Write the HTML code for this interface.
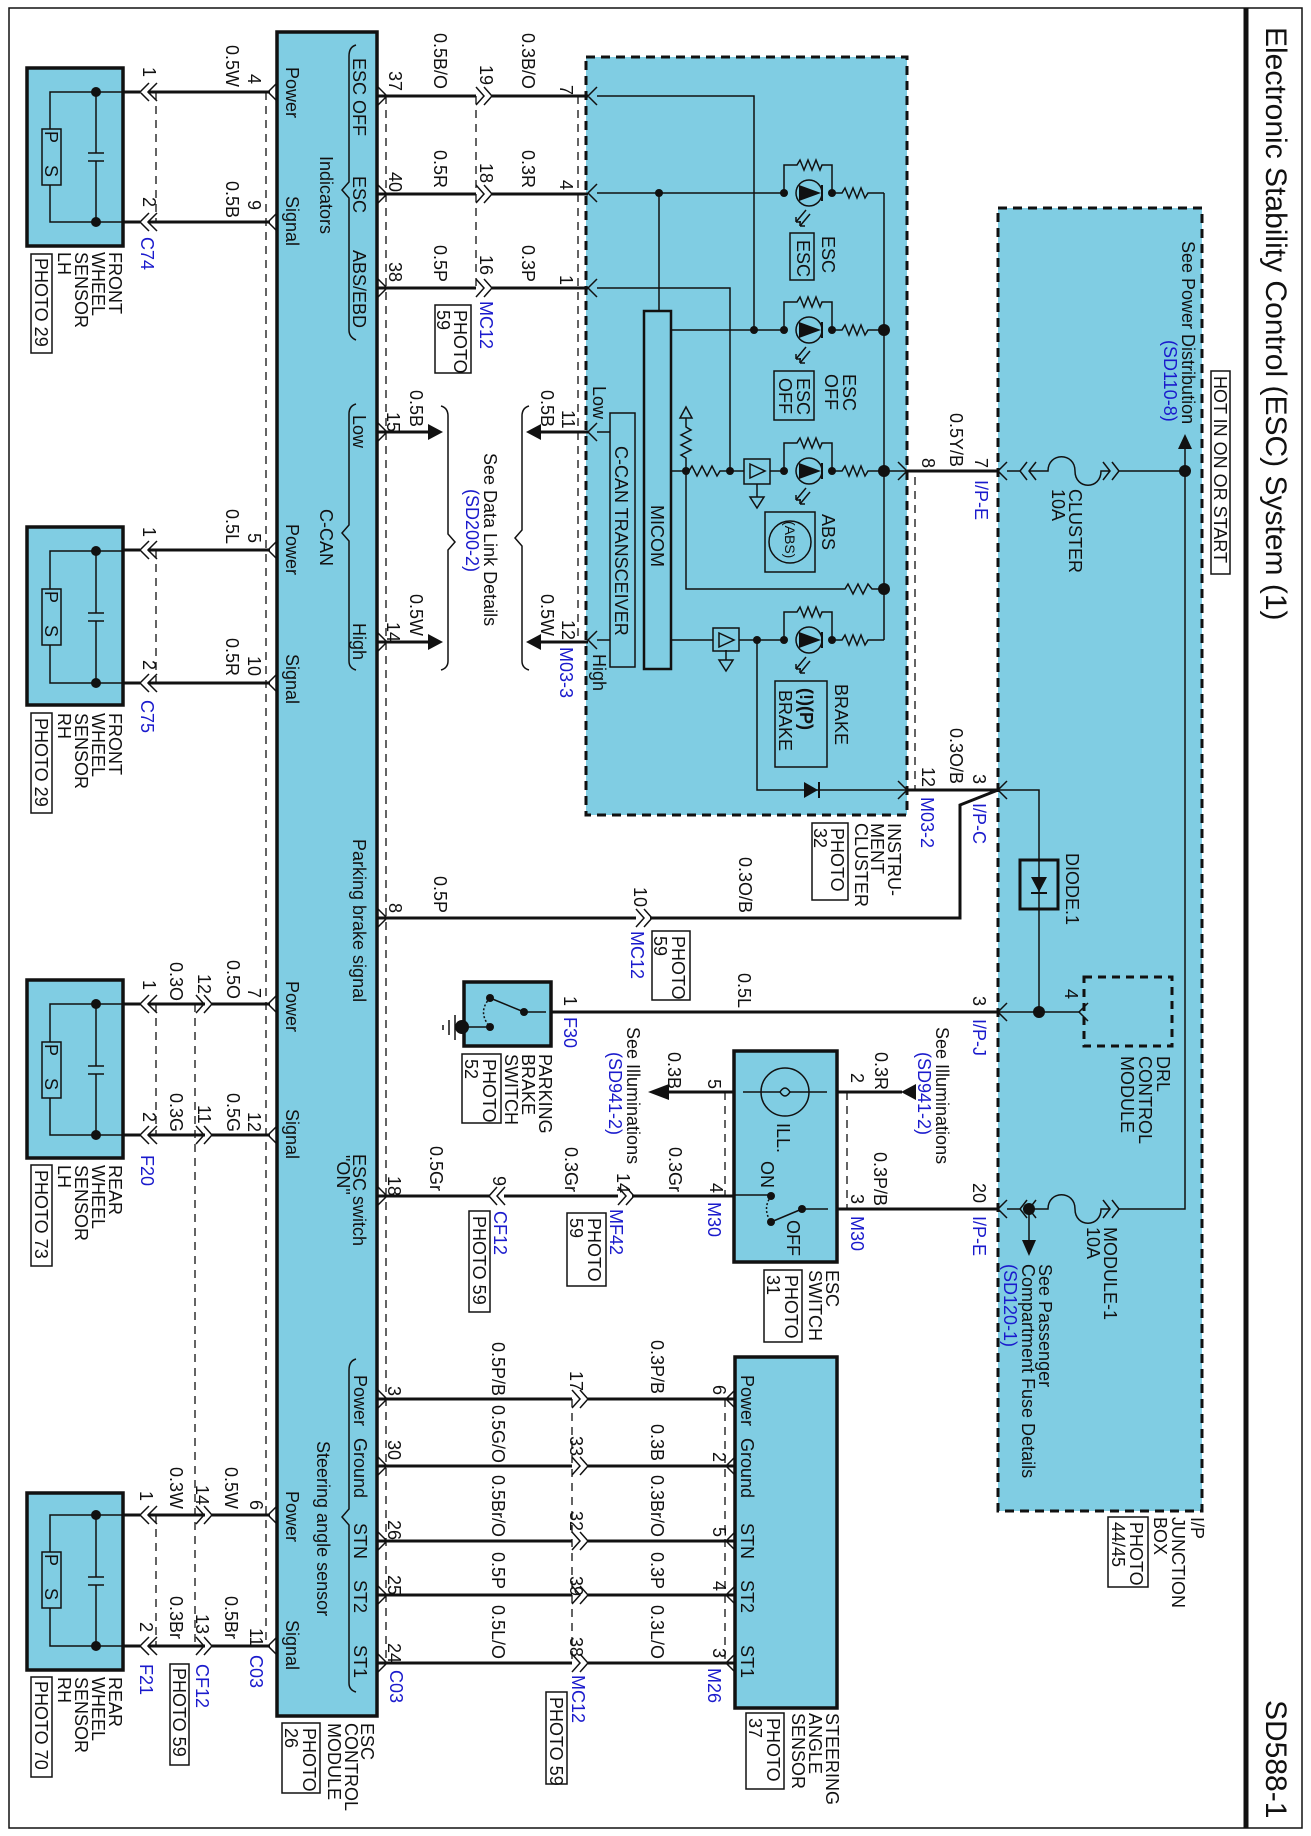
<!DOCTYPE html>
<html><head><meta charset="utf-8"><style>
html,body{margin:0;padding:0;background:#fff}
svg{display:block}
text{font-family:"Liberation Sans",sans-serif;font-size:18px;fill:#111}
.b{fill:#1a1acc}
.w{stroke:#111;stroke-width:3;fill:none}
.n{stroke:#111;stroke-width:1.5;fill:none}
.d{stroke:#111;stroke-width:1.3;fill:none;stroke-dasharray:8 6}
.c{fill:#80cde3;stroke:#111;stroke-width:3.5}
.cd{fill:#80cde3;stroke:#111;stroke-width:3;stroke-dasharray:9 6}
.k{fill:#111}
.bx{fill:none;stroke:#111;stroke-width:1.5}
</style></head><body>
<svg width="1311" height="1836" viewBox="0 0 1311 1836" xmlns="http://www.w3.org/2000/svg">
<rect x="9" y="8" width="1293" height="1820" fill="none" stroke="#111" stroke-width="1.5"/>
<line x1="1246" y1="8" x2="1246" y2="1828" stroke="#111" stroke-width="5"/>
<text style="font-size:30px" transform="translate(1266,27) rotate(90)">Electronic Stability Control (ESC) System (1)</text>
<text style="font-size:30px" transform="translate(1266,1700) rotate(90)">SD588-1</text>

<rect class="cd" x="998" y="208" width="204" height="1303"/>
<rect class="cd" x="586" y="57" width="321" height="758"/>
<rect class="c" x="277" y="32" width="100" height="1684"/>

<g transform="translate(0,68)">
<rect class="c" x="27" y="0" width="96" height="178"/>
<path class="n" d="M123,24H50V154H123M96,24V85M96,93V154M88,85H104M88,93H104"/>
<rect x="42" y="61" width="19" height="56" fill="#80cde3" stroke="#111" stroke-width="1.5"/>
<circle class="k" cx="96" cy="24" r="5"/><circle class="k" cx="96" cy="154" r="5"/>
</g>
<g transform="translate(0,527)">
<rect class="c" x="27" y="0" width="96" height="178"/>
<path class="n" d="M123,24H50V156H123M96,24V86M96,94V156M88,86H104M88,94H104"/>
<rect x="42" y="62" width="19" height="56" fill="#80cde3" stroke="#111" stroke-width="1.5"/>
<circle class="k" cx="96" cy="24" r="5"/><circle class="k" cx="96" cy="156" r="5"/>
</g>
<g transform="translate(0,980)">
<rect class="c" x="27" y="0" width="96" height="178"/>
<path class="n" d="M123,24H50V155H123M96,24V86M96,94V155M88,86H104M88,94H104"/>
<rect x="42" y="62" width="19" height="56" fill="#80cde3" stroke="#111" stroke-width="1.5"/>
<circle class="k" cx="96" cy="24" r="5"/><circle class="k" cx="96" cy="155" r="5"/>
</g>
<g transform="translate(0,1493)">
<rect class="c" x="27" y="0" width="96" height="177"/>
<path class="n" d="M123,22H50V153H123M96,22V84M96,92V153M88,84H104M88,92H104"/>
<rect x="42" y="59" width="19" height="56" fill="#80cde3" stroke="#111" stroke-width="1.5"/>
<circle class="k" cx="96" cy="22" r="5"/><circle class="k" cx="96" cy="153" r="5"/>
</g>
<text transform="translate(45,131) rotate(90)">P</text><text transform="translate(45,165) rotate(90)">S</text>
<text transform="translate(45,591) rotate(90)">P</text><text transform="translate(45,625) rotate(90)">S</text>
<text transform="translate(45,1044) rotate(90)">P</text><text transform="translate(45,1078) rotate(90)">S</text>
<text transform="translate(45,1554) rotate(90)">P</text><text transform="translate(45,1588) rotate(90)">S</text>

<path class="w" d="M123,92H140M148,92H270M123,222H140M148,222H270M123,550H140M148,550H270M123,683H140M148,683H270"/>
<path class="w" d="M123,1004H140M148,1004H205M212,1004H270M123,1135H140M148,1135H205M212,1135H270"/>
<path class="w" d="M123,1515H140M148,1515H205M212,1515H270M123,1646H140M148,1646H205M212,1646H270"/>
<path class="n" d="M149,83L140,92L149,101M157,83L148,92L157,101M149,213L140,222L149,231M157,213L148,222L157,231
M149,541L140,550L149,559M157,541L148,550L157,559M149,674L140,683L149,692M157,674L148,683L157,692
M149,995L140,1004L149,1013M157,995L148,1004L157,1013M149,1126L140,1135L149,1144M157,1126L148,1135L157,1144
M149,1506L140,1515L149,1524M157,1506L148,1515L157,1524M149,1637L140,1646L149,1655M157,1637L148,1646L157,1655
M196,995L204,1004L196,1013M204,995L212,1004L204,1013M196,1126L204,1135L196,1144M204,1126L212,1135L204,1144
M196,1506L204,1515L196,1524M204,1506L212,1515L204,1524M196,1637L204,1646L196,1655M204,1637L212,1646L204,1655
M277,83L268,92L277,101M277,213L268,222L277,231M277,541L268,550L277,559M277,674L268,683L277,692
M277,995L268,1004L277,1013M277,1126L268,1135L277,1144M277,1506L268,1515L277,1524M277,1637L268,1646L277,1655"/>
<path class="d" d="M156,92V222M156,550V683M156,1004V1135M156,1515V1646M195,1004V1646M266,92V1646M386,96V1663M476,96V288M578,96V642M572,1399V1663M725,1399V1663M725,1092V1195M847,1092V1209M915,477V790"/>

<path class="w" d="M378,96H476M492,96H588M378,194H476M492,194H588M378,288H476M492,288H588
M378,432H430M378,642H430M540,432H588M540,642H588
M378,918H636M650,918H960V805L998,790M907,790H998
M378,1196H490M504,1196H618M632,1196H734
M378,1399H572M588,1399H735M378,1466H572M588,1466H735M378,1541H572M588,1541H735M378,1595H572M588,1595H735M378,1663H572M588,1663H735
M551,1012H998M907,471H998M837,1209H998M668,1092H734M837,1092H902"/>
<path class="k" d="M428,424L443,432L428,440ZM428,634L443,642L428,650ZM541,424L526,432L541,440ZM541,634L526,642L541,650ZM669,1084L648,1092L669,1100ZM901,1092L916,1084L916,1100Z"/>
<path class="n" d="M378,87L387,96L378,105M378,185L387,194L378,203M378,279L387,288L378,297M378,423L387,432L378,441M378,633L387,642L378,651M378,909L387,918L378,927M378,1187L387,1196L378,1205M378,1390L387,1399L378,1408M378,1457L387,1466L378,1475M378,1532L387,1541L378,1550M378,1586L387,1595L378,1604M378,1654L387,1663L378,1672
M476,87L484,96L476,105M484,87L492,96L484,105M476,185L484,194L476,203M484,185L492,194L484,203M476,279L484,288L476,297M484,279L492,288L484,297
M636,909L644,918L636,927M644,909L652,918L644,927M505,1187L497,1196L505,1205M497,1187L489,1196L497,1205M618,1187L626,1196L618,1205M626,1187L634,1196L626,1205
M572,1390L580,1399L572,1408M580,1390L588,1399L580,1408M572,1457L580,1466L572,1475M580,1457L588,1466L580,1475M572,1532L580,1541L572,1550M580,1532L588,1541L580,1550M572,1586L580,1595L572,1604M580,1586L588,1595L580,1604M572,1654L580,1663L572,1672M580,1654L588,1663L580,1672
M597,87L588,96L597,105M597,184L588,193L597,202M597,279L588,288L597,297M597,423L588,432L597,441M597,631L588,640L597,649
M898,462L907,471L898,480M898,781L907,790L898,799M1007,462L998,471L1007,480M1007,781L998,790L1007,799M1007,1003L998,1012L1007,1021M1007,1200L998,1209L1007,1218
M735,1390L726,1399L735,1408M735,1457L726,1466L735,1475M735,1532L726,1541L735,1550M735,1586L726,1595L735,1604M735,1654L726,1663L735,1672
M743,1083L734,1092L743,1101M828,1083L837,1092L828,1101M743,1186L734,1195L743,1204M828,1200L837,1209L828,1218M542,1003L551,1012L542,1021
M1088,1003L1079,1012L1088,1021"/>

<path class="n" d="M356,45Q349,47 349,56V182L342,190L349,198V330Q349,337 356,340M356,404Q349,406 349,414V525L342,533L349,541V661Q349,668 356,670M356,1359Q349,1361 349,1370V1509L342,1517L349,1525V1683Q349,1690 356,1692
M441,406Q448,408 448,416V534L455,542L448,550V661Q448,668 441,670M529,406Q522,408 522,416V530L515,538L522,546V661Q522,668 529,670"/>

<rect x="644" y="311" width="27" height="358" fill="#80cde3" stroke="#111" stroke-width="2.5"/>
<rect x="610" y="413" width="25" height="254" fill="#80cde3" stroke="#111" stroke-width="1.5"/>
<path class="n" d="M597,96H754V330M597,193H784M659,193V311M597,288H730V471M671,330H784M597,432H610M597,640H610
M671,471H689L692,466L697,476L702,466L707,476L712,466L717,476L720,471H744M770,471H784M757,484V497M750,497H764L757,508Z
M686,471V458L681,455L691,450L681,445L691,440L681,435L691,430L686,427V418M680,418H692L686,407Z
M686,471V589H845L848,584L853,594L858,584L863,594L868,584L872,589H884
M671,640H713M739,640H784M726,650V660M719,660H733L726,671Z
M757,640V790H907M884,193V640M887,471H907"/>
<rect x="744" y="459" width="26" height="25" fill="none" stroke="#111" stroke-width="1.5"/>
<path class="n" d="M750,464L765,471L750,478Z"/>
<rect x="713" y="628" width="26" height="23" fill="none" stroke="#111" stroke-width="1.5"/>
<path class="n" d="M719,633L734,640L719,647Z"/>
<path class="k" d="M804,782L818,790L804,798Z"/><line x1="819" y1="782" x2="819" y2="798" stroke="#111" stroke-width="2"/>
<g id="led">
<path class="n" d="M784,193V165H797L800,160L804,170L808,160L812,170L816,160L820,170L822,165H832V193M832,193H842L845,188L849,198L853,188L857,198L861,188L865,198L868,193H884"/>
<circle cx="809" cy="193" r="13" fill="none" stroke="#111" stroke-width="1.5"/>
<path class="k" d="M799,185L821,193L799,201Z"/><line x1="822" y1="185" x2="822" y2="201" stroke="#111" stroke-width="2"/>
<circle class="k" cx="784" cy="193" r="4"/><circle class="k" cx="832" cy="193" r="4"/>
<path class="n" d="M806,210L796,222M810,214L800,226M796,222l0,-5M796,222l5,0M800,226l0,-5M800,226l5,0"/>
</g>
<use href="#led" transform="translate(0,137)"/>
<use href="#led" transform="translate(0,278)"/>
<use href="#led" transform="translate(0,447)"/>
<circle class="k" cx="659" cy="193" r="4"/><circle class="k" cx="754" cy="330" r="4"/><circle class="k" cx="730" cy="471" r="4"/><circle class="k" cx="686" cy="471" r="4"/><circle class="k" cx="757" cy="640" r="4"/>
<circle class="k" cx="884" cy="330" r="6"/><circle class="k" cx="884" cy="471" r="6"/><circle class="k" cx="884" cy="589" r="6"/>
<rect class="bx" x="790" y="233" width="24" height="47"/>
<rect class="bx" x="774" y="371" width="40" height="49"/>
<rect class="bx" x="765" y="512" width="50" height="60"/><circle cx="790" cy="542" r="21" fill="none" stroke="#111" stroke-width="1.5"/>
<rect class="bx" x="775" y="681" width="52" height="86"/>

<path class="n" d="M1007,471H1020M1118,471H1185V1209H1118M1020,1209H1007M1185,471V448M1029,1209V1240M998,790H1039V1012M998,1012H1079
M1027,462L1020,471L1027,480M1036,462L1029,471L1036,480M1112,462L1119,471L1112,480M1103,462L1110,471L1103,480
M1027,1200L1020,1209L1027,1218M1036,1200L1029,1209L1036,1218M1112,1200L1119,1209L1112,1218M1103,1200L1110,1209L1103,1218
M1029,471H1048C1048,452 1075,452 1075,471C1075,490 1101,490 1101,471H1110M1029,1209H1048C1048,1190 1075,1190 1075,1209C1075,1228 1101,1228 1101,1209H1110"/>
<path class="k" d="M1178,449L1185,434L1192,449ZM1022,1240L1029,1256L1036,1240Z"/>
<circle class="k" cx="1185" cy="471" r="6"/><circle class="k" cx="1029" cy="1209" r="6"/><circle class="k" cx="1039" cy="1012" r="6"/>
<rect x="1020" y="860" width="38" height="49" fill="none" stroke="#111" stroke-width="3"/>
<path class="k" d="M1031,877H1047L1039,892Z"/><line x1="1031" y1="893" x2="1047" y2="893" stroke="#111" stroke-width="2"/>
<rect x="1084" y="977" width="88" height="69" fill="none" stroke="#111" stroke-width="3" stroke-dasharray="8 6"/>
<rect class="bx" x="1211" y="371" width="19" height="203"/>

<rect class="c" x="464" y="982" width="87" height="64"/>
<path class="n" d="M490,998L524,1012H546M490,1027H463"/>
<path class="n" d="M490,998Q477,1012 490,1027" stroke-dasharray="2 2"/>
<circle class="k" cx="490" cy="998" r="4"/><circle class="k" cx="524" cy="1012" r="4"/><circle class="k" cx="490" cy="1027" r="4"/><circle class="k" cx="462" cy="1027" r="7"/>
<path class="n" d="M455,1015V1040M449,1020V1035M443,1025V1030" stroke-width="2"/>

<rect class="c" x="734" y="1051" width="103" height="211"/>
<circle cx="785" cy="1092" r="24" fill="#80cde3" stroke="#111" stroke-width="1.5"/>
<path class="n" d="M743,1092H761M809,1092H827M734,1195H771M802,1209H828M771,1222L802,1209M761,1092H780Q785,1084 790,1092Q785,1100 780,1092"/>
<path class="n" d="M790,1092H809"/>
<path class="n" d="M771,1196Q762,1209 771,1222" stroke-dasharray="2 2"/>
<circle class="k" cx="771" cy="1196" r="4"/><circle class="k" cx="771" cy="1222" r="4"/><circle class="k" cx="802" cy="1209" r="4"/>

<rect class="c" x="735" y="1357" width="102" height="351"/>

<g class="bx">
<rect x="31" y="254" width="21" height="99"/><rect x="31" y="713" width="21" height="100"/><rect x="31" y="1165" width="21" height="101"/><rect x="31" y="1677" width="21" height="100"/>
<rect x="435" y="305" width="36" height="68"/><rect x="652" y="931" width="38" height="69"/><rect x="812" y="823" width="36" height="77"/>
<rect x="462" y="1054" width="39" height="69"/><rect x="469" y="1211" width="21" height="101"/><rect x="567" y="1213" width="39" height="73"/>
<rect x="764" y="1270" width="38" height="72"/><rect x="1108" y="1517" width="40" height="70"/><rect x="746" y="1713" width="38" height="76"/>
<rect x="546" y="1692" width="21" height="92"/><rect x="170" y="1664" width="19" height="101"/><rect x="282" y="1723" width="38" height="70"/>
</g>

<g>
<text transform="translate(143,67) rotate(90)">1</text><text transform="translate(248,74) rotate(90)">4</text><text transform="translate(226,45) rotate(90)">0.5W</text>
<text transform="translate(143,197) rotate(90)">2</text><text transform="translate(248,200) rotate(90)">9</text><text transform="translate(226,181) rotate(90)">0.5B</text>
<text class="b" transform="translate(141,237) rotate(90)">C74</text>
<text transform="translate(109,252) rotate(90)">FRONT</text><text transform="translate(92,252) rotate(90)">WHEEL</text><text transform="translate(75,252) rotate(90)">SENSOR</text><text transform="translate(58,252) rotate(90)">LH</text><text transform="translate(35,258) rotate(90)">PHOTO 29</text>

<text transform="translate(143,527) rotate(90)">1</text><text transform="translate(248,533) rotate(90)">5</text><text transform="translate(226,509) rotate(90)">0.5L</text>
<text transform="translate(143,660) rotate(90)">2</text><text transform="translate(248,656) rotate(90)">10</text><text transform="translate(226,638) rotate(90)">0.5R</text>
<text class="b" transform="translate(141,700) rotate(90)">C75</text>
<text transform="translate(109,713) rotate(90)">FRONT</text><text transform="translate(92,713) rotate(90)">WHEEL</text><text transform="translate(75,713) rotate(90)">SENSOR</text><text transform="translate(58,713) rotate(90)">RH</text><text transform="translate(35,718) rotate(90)">PHOTO 29</text>

<text transform="translate(143,980) rotate(90)">1</text><text transform="translate(170,962) rotate(90)">0.3O</text><text transform="translate(198,974) rotate(90)">12</text><text transform="translate(227,960) rotate(90)">0.5O</text><text transform="translate(248,988) rotate(90)">7</text>
<text transform="translate(143,1112) rotate(90)">2</text><text transform="translate(170,1093) rotate(90)">0.3G</text><text transform="translate(198,1105) rotate(90)">11</text><text transform="translate(227,1093) rotate(90)">0.5G</text><text transform="translate(248,1112) rotate(90)">12</text>
<text class="b" transform="translate(141,1155) rotate(90)">F20</text>
<text transform="translate(109,1165) rotate(90)">REAR</text><text transform="translate(92,1165) rotate(90)">WHEEL</text><text transform="translate(75,1165) rotate(90)">SENSOR</text><text transform="translate(58,1165) rotate(90)">LH</text><text transform="translate(35,1170) rotate(90)">PHOTO 73</text>

<text transform="translate(140,1491) rotate(90)">1</text><text transform="translate(170,1467) rotate(90)">0.3W</text><text transform="translate(196,1485) rotate(90)">14</text><text transform="translate(225,1467) rotate(90)">0.5W</text><text transform="translate(250,1500) rotate(90)">6</text>
<text transform="translate(140,1622) rotate(90)">2</text><text transform="translate(170,1596) rotate(90)">0.3Br</text><text transform="translate(196,1614) rotate(90)">13</text><text transform="translate(225,1596) rotate(90)">0.5Br</text><text transform="translate(250,1628) rotate(90)">11</text>
<text class="b" transform="translate(140,1664) rotate(90)">F21</text><text class="b" transform="translate(196,1664) rotate(90)">CF12</text><text transform="translate(173,1668) rotate(90)">PHOTO 59</text><text class="b" transform="translate(250,1655) rotate(90)">C03</text>
<text transform="translate(109,1677) rotate(90)">REAR</text><text transform="translate(92,1677) rotate(90)">WHEEL</text><text transform="translate(75,1677) rotate(90)">SENSOR</text><text transform="translate(58,1677) rotate(90)">RH</text><text transform="translate(35,1681) rotate(90)">PHOTO 70</text>

<text transform="translate(286,67) rotate(90)">Power</text><text transform="translate(286,196) rotate(90)">Signal</text><text transform="translate(320,156) rotate(90)">Indicators</text>
<text transform="translate(353,58) rotate(90)">ESC OFF</text><text transform="translate(353,176) rotate(90)">ESC</text><text transform="translate(353,250) rotate(90)">ABS/EBD</text>
<text transform="translate(353,415) rotate(90)">Low</text><text transform="translate(320,509) rotate(90)">C-CAN</text><text transform="translate(353,623) rotate(90)">High</text>
<text transform="translate(286,524) rotate(90)">Power</text><text transform="translate(286,654) rotate(90)">Signal</text>
<text transform="translate(353,839) rotate(90)">Parking brake signal</text>
<text transform="translate(286,981) rotate(90)">Power</text><text transform="translate(286,1109) rotate(90)">Signal</text>
<text transform="translate(353,1154) rotate(90)">ESC switch</text><text transform="translate(337,1155) rotate(90)">"ON"</text>
<text transform="translate(354,1375) rotate(90)">Power</text><text transform="translate(354,1438) rotate(90)">Ground</text><text transform="translate(354,1523) rotate(90)">STN</text><text transform="translate(354,1580) rotate(90)">ST2</text><text transform="translate(354,1645) rotate(90)">ST1</text>
<text transform="translate(317,1441) rotate(90)">Steering angle sensor</text>
<text transform="translate(286,1491) rotate(90)">Power</text><text transform="translate(286,1620) rotate(90)">Signal</text>
<text transform="translate(361,1723) rotate(90)">ESC</text><text transform="translate(345,1723) rotate(90)">CONTROL</text><text transform="translate(328,1723) rotate(90)">MODULE</text>
<text transform="translate(303,1728) rotate(90)">PHOTO</text><text transform="translate(285,1728) rotate(90)">26</text>

<text transform="translate(389,71) rotate(90)">37</text><text transform="translate(434,33) rotate(90)">0.5B/O</text><text transform="translate(480,65) rotate(90)">19</text><text transform="translate(522,33) rotate(90)">0.3B/O</text><text transform="translate(560,85) rotate(90)">7</text>
<text transform="translate(389,172) rotate(90)">40</text><text transform="translate(434,150) rotate(90)">0.5R</text><text transform="translate(480,163) rotate(90)">18</text><text transform="translate(522,150) rotate(90)">0.3R</text><text transform="translate(560,180) rotate(90)">4</text>
<text transform="translate(389,262) rotate(90)">38</text><text transform="translate(434,245) rotate(90)">0.5P</text><text transform="translate(480,255) rotate(90)">16</text><text transform="translate(522,245) rotate(90)">0.3P</text><text transform="translate(560,275) rotate(90)">1</text>
<text class="b" transform="translate(480,301) rotate(90)">MC12</text><text transform="translate(454,310) rotate(90)">PHOTO</text><text transform="translate(437,310) rotate(90)">59</text>
<text transform="translate(387,412) rotate(90)">15</text><text transform="translate(410,390) rotate(90)">0.5B</text><text transform="translate(387,622) rotate(90)">14</text><text transform="translate(410,594) rotate(90)">0.5W</text>
<text transform="translate(562,410) rotate(90)">11</text><text transform="translate(541,390) rotate(90)">0.5B</text><text transform="translate(562,620) rotate(90)">12</text><text transform="translate(541,594) rotate(90)">0.5W</text>
<text class="b" transform="translate(560,647) rotate(90)">M03-3</text>
<text transform="translate(484,453) rotate(90)">See Data Link Details</text><text class="b" transform="translate(466,489) rotate(90)">(SD200-2)</text>
<text transform="translate(593,386) rotate(90)">Low</text><text transform="translate(593,654) rotate(90)">High</text>

<text transform="translate(389,903) rotate(90)">8</text><text transform="translate(434,876) rotate(90)">0.5P</text><text transform="translate(634,887) rotate(90)">10</text>
<text class="b" transform="translate(631,931) rotate(90)">MC12</text><text transform="translate(672,936) rotate(90)">PHOTO</text><text transform="translate(654,936) rotate(90)">59</text>
<text transform="translate(739,857) rotate(90)">0.3O/B</text>

<text transform="translate(388,1176) rotate(90)">18</text><text transform="translate(430,1146) rotate(90)">0.5Gr</text><text transform="translate(493,1176) rotate(90)">9</text>
<text class="b" transform="translate(494,1211) rotate(90)">CF12</text><text transform="translate(473,1216) rotate(90)">PHOTO 59</text>
<text transform="translate(565,1147) rotate(90)">0.3Gr</text><text transform="translate(617,1173) rotate(90)">14</text><text class="b" transform="translate(610,1209) rotate(90)">MF42</text>
<text transform="translate(588,1218) rotate(90)">PHOTO</text><text transform="translate(570,1218) rotate(90)">59</text>
<text transform="translate(669,1147) rotate(90)">0.3Gr</text><text transform="translate(710,1183) rotate(90)">4</text><text class="b" transform="translate(708,1202) rotate(90)">M30</text>

<text transform="translate(564,996) rotate(90)">1</text><text class="b" transform="translate(564,1017) rotate(90)">F30</text>
<text transform="translate(539,1054) rotate(90)">PARKING</text><text transform="translate(522,1054) rotate(90)">BRAKE</text><text transform="translate(505,1054) rotate(90)">SWITCH</text>
<text transform="translate(483,1059) rotate(90)">PHOTO</text><text transform="translate(465,1059) rotate(90)">52</text>
<text transform="translate(738,973) rotate(90)">0.5L</text>
<text transform="translate(627,1027) rotate(90)">See Illuminations</text><text class="b" transform="translate(609,1052) rotate(90)">(SD941-2)</text>
<text transform="translate(708,1079) rotate(90)">5</text><text transform="translate(668,1052) rotate(90)">0.3B</text>
<text transform="translate(851,1073) rotate(90)">2</text><text transform="translate(875,1052) rotate(90)">0.3R</text>
<text transform="translate(936,1027) rotate(90)">See Illuminations</text><text class="b" transform="translate(918,1052) rotate(90)">(SD941-2)</text>
<text transform="translate(851,1194) rotate(90)">3</text><text transform="translate(874,1152) rotate(90)">0.3P/B</text><text class="b" transform="translate(851,1216) rotate(90)">M30</text>
<text transform="translate(973,1183) rotate(90)">20</text><text class="b" transform="translate(973,1216) rotate(90)">I/P-E</text>
<text transform="translate(777,1123) rotate(90)">ILL.</text><text transform="translate(761,1161) rotate(90)">ON</text><text transform="translate(787,1220) rotate(90)">OFF</text>
<text transform="translate(826,1270) rotate(90)">ESC</text><text transform="translate(809,1270) rotate(90)">SWITCH</text>
<text transform="translate(785,1275) rotate(90)">PHOTO</text><text transform="translate(767,1275) rotate(90)">31</text>

<text transform="translate(388,1386) rotate(90)">3</text><text transform="translate(388,1440) rotate(90)">30</text><text transform="translate(388,1520) rotate(90)">26</text><text transform="translate(388,1575) rotate(90)">25</text><text transform="translate(388,1643) rotate(90)">24</text>
<text class="b" transform="translate(390,1670) rotate(90)">C03</text>
<text transform="translate(492,1342) rotate(90)">0.5P/B</text><text transform="translate(492,1405) rotate(90)">0.5G/O</text><text transform="translate(492,1475) rotate(90)">0.5Br/O</text><text transform="translate(492,1552) rotate(90)">0.5P</text><text transform="translate(492,1605) rotate(90)">0.5L/O</text>
<text transform="translate(570,1371) rotate(90)">17</text><text transform="translate(570,1436) rotate(90)">33</text><text transform="translate(570,1511) rotate(90)">32</text><text transform="translate(570,1576) rotate(90)">39</text><text transform="translate(570,1637) rotate(90)">38</text>
<text class="b" transform="translate(572,1675) rotate(90)">MC12</text><text transform="translate(550,1697) rotate(90)">PHOTO 59</text>
<text transform="translate(651,1340) rotate(90)">0.3P/B</text><text transform="translate(651,1424) rotate(90)">0.3B</text><text transform="translate(651,1475) rotate(90)">0.3Br/O</text><text transform="translate(651,1552) rotate(90)">0.3P</text><text transform="translate(651,1605) rotate(90)">0.3L/O</text>
<text transform="translate(713,1385) rotate(90)">6</text><text transform="translate(713,1452) rotate(90)">2</text><text transform="translate(713,1527) rotate(90)">5</text><text transform="translate(713,1581) rotate(90)">4</text><text transform="translate(713,1648) rotate(90)">3</text>
<text class="b" transform="translate(708,1668) rotate(90)">M26</text>
<text transform="translate(741,1375) rotate(90)">Power</text><text transform="translate(741,1438) rotate(90)">Ground</text><text transform="translate(741,1523) rotate(90)">STN</text><text transform="translate(741,1580) rotate(90)">ST2</text><text transform="translate(741,1645) rotate(90)">ST1</text>
<text transform="translate(826,1713) rotate(90)">STEERING</text><text transform="translate(809,1713) rotate(90)">ANGLE</text><text transform="translate(792,1713) rotate(90)">SENSOR</text>
<text transform="translate(767,1718) rotate(90)">PHOTO</text><text transform="translate(749,1718) rotate(90)">37</text>

<text transform="translate(822,236) rotate(90)">ESC</text><text transform="translate(797,240) rotate(90)">ESC</text>
<text transform="translate(843,374) rotate(90)">ESC</text><text transform="translate(825,374) rotate(90)">OFF</text>
<text transform="translate(797,378) rotate(90)">ESC</text><text transform="translate(779,378) rotate(90)">OFF</text>
<text transform="translate(822,514) rotate(90)">ABS</text><text style="font-size:14px" transform="translate(785,521) rotate(90)">(ABS)</text>
<text transform="translate(835,684) rotate(90)">BRAKE</text><text style="font-weight:bold" transform="translate(800,688) rotate(90)">(!)(P)</text><text transform="translate(779,690) rotate(90)">BRAKE</text>
<text transform="translate(651,505) rotate(90)">MICOM</text><text transform="translate(615,446) rotate(90)">C-CAN TRANSCEIVER</text>
<text transform="translate(888,823) rotate(90)">INSTRU-</text><text transform="translate(871,823) rotate(90)">MENT</text><text transform="translate(855,823) rotate(90)">CLUSTER</text>
<text transform="translate(831,828) rotate(90)">PHOTO</text><text transform="translate(814,828) rotate(90)">32</text>
<text transform="translate(922,767) rotate(90)">12</text><text transform="translate(950,728) rotate(90)">0.3O/B</text><text transform="translate(973,774) rotate(90)">3</text>
<text class="b" transform="translate(921,797) rotate(90)">M03-2</text><text class="b" transform="translate(973,803) rotate(90)">I/P-C</text>
<text transform="translate(922,458) rotate(90)">8</text><text transform="translate(950,413) rotate(90)">0.5Y/B</text><text transform="translate(975,458) rotate(90)">7</text><text class="b" transform="translate(975,480) rotate(90)">I/P-E</text>

<text transform="translate(1069,489) rotate(90)">CLUSTER</text><text transform="translate(1052,489) rotate(90)">10A</text>
<text transform="translate(1104,1227) rotate(90)">MODULE-1</text><text transform="translate(1087,1227) rotate(90)">10A</text>
<text transform="translate(1214,376) rotate(90)">HOT IN ON OR START</text>
<text transform="translate(1182,241) rotate(90)">See Power Distribution</text><text class="b" transform="translate(1164,340) rotate(90)">(SD110-8)</text>
<text transform="translate(1066,853) rotate(90)">DIODE.1</text>
<text transform="translate(1157,1056) rotate(90)">DRL</text><text transform="translate(1139,1056) rotate(90)">CONTROL</text><text transform="translate(1121,1056) rotate(90)">MODULE</text>
<text transform="translate(1065,989) rotate(90)">4</text>
<text transform="translate(973,996) rotate(90)">3</text><text class="b" transform="translate(973,1019) rotate(90)">I/P-J</text>
<text transform="translate(1039,1264) rotate(90)">See Passenger</text><text transform="translate(1022,1264) rotate(90)">Compartment Fuse Details</text><text class="b" transform="translate(1004,1264) rotate(90)">(SD120-1)</text>
<text transform="translate(1191,1517) rotate(90)">I/P</text><text transform="translate(1172,1517) rotate(90)">JUNCTION</text><text transform="translate(1154,1517) rotate(90)">BOX</text>
<text transform="translate(1130,1522) rotate(90)">PHOTO</text><text transform="translate(1112,1522) rotate(90)">44/45</text>
</g>
</svg>
</body></html>
